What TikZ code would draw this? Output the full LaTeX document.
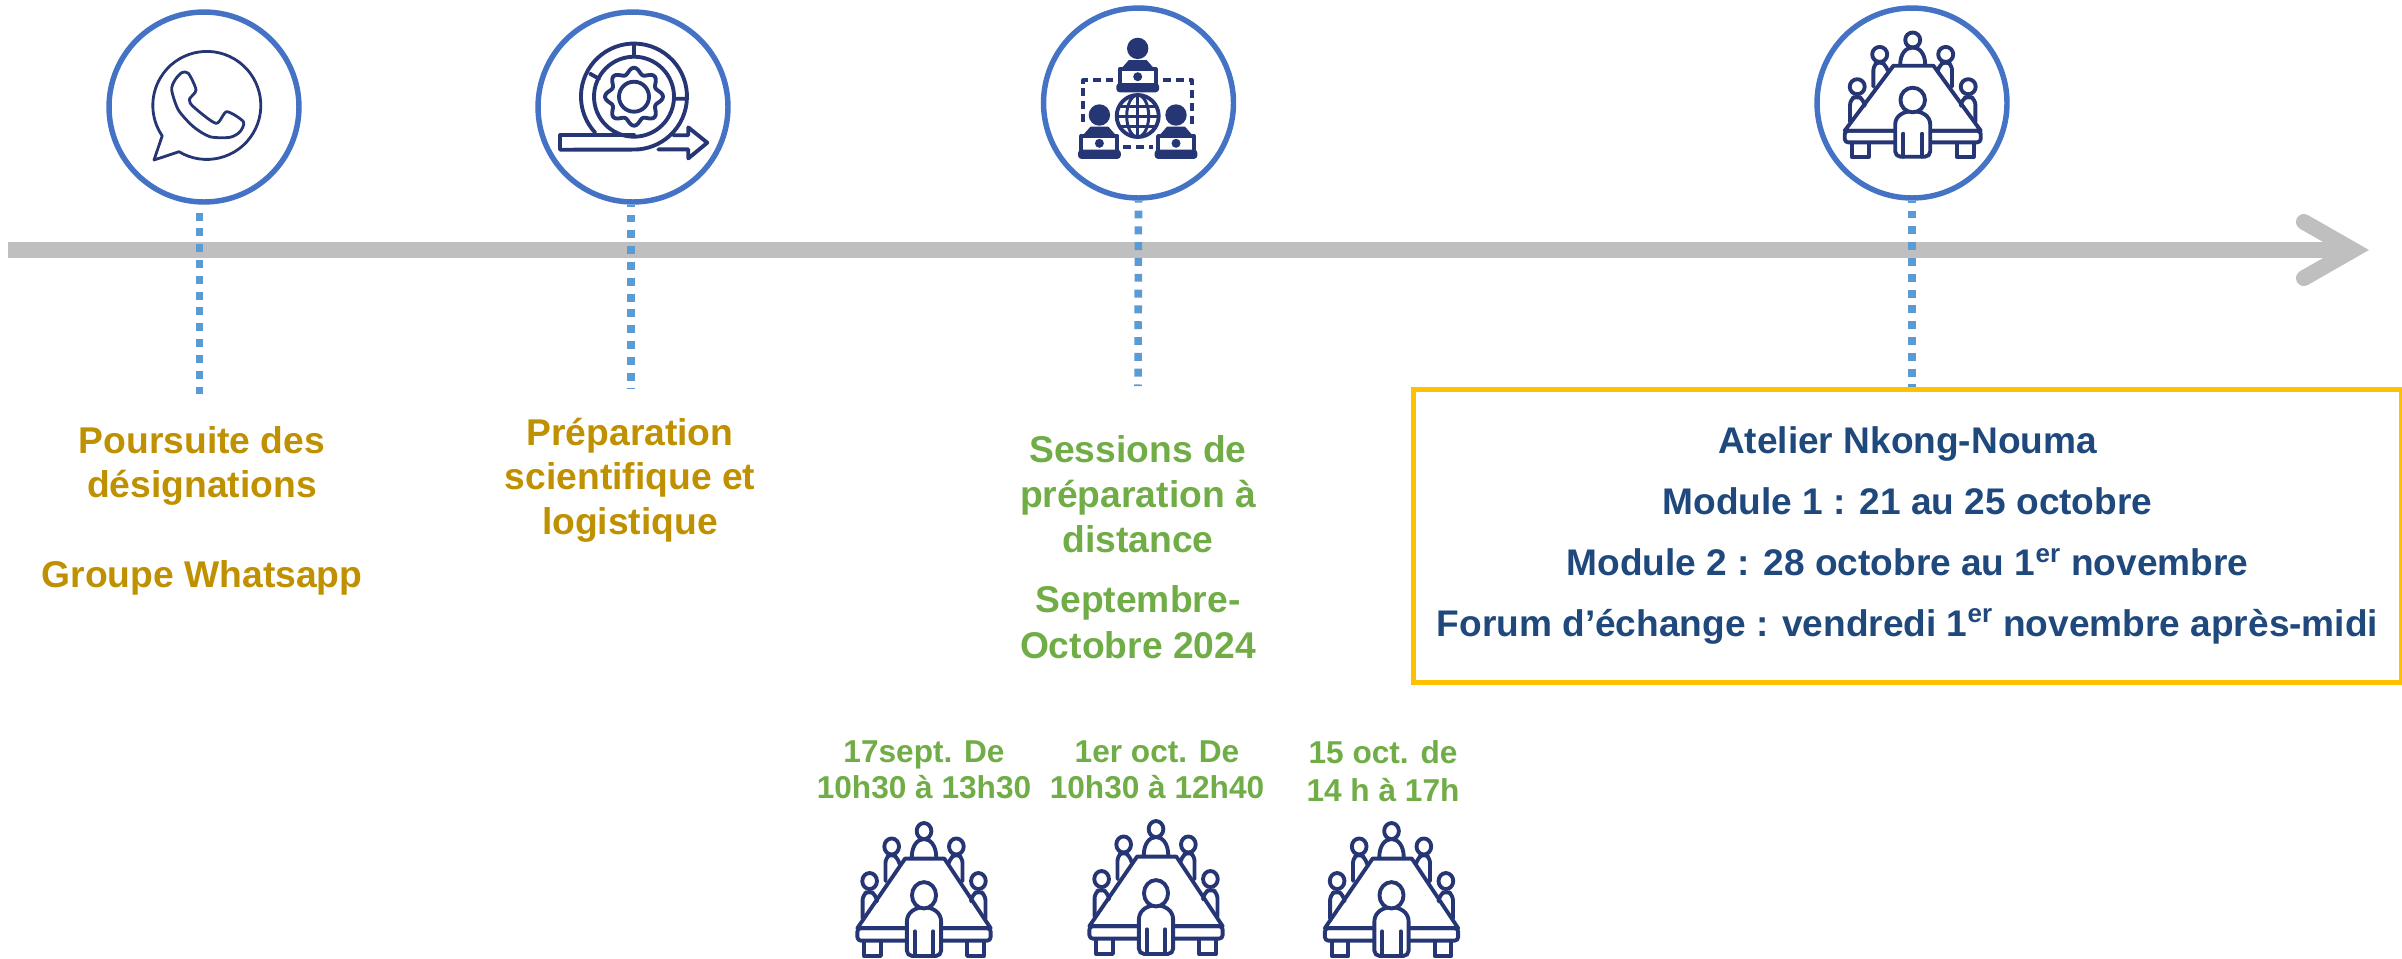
\documentclass[tikz,border=0pt]{standalone}
\usepackage{fontspec}
\setmainfont{Liberation Sans}
\usetikzlibrary{arrows.meta,positioning}

\definecolor{ringblue}{HTML}{4472C4}
\definecolor{stemblue}{HTML}{5B9BD5}
\definecolor{iconnavy}{HTML}{263574}
\definecolor{textnavy}{HTML}{1F497D}
\definecolor{axisgray}{HTML}{BFBFBF}
\definecolor{labelgold}{HTML}{BF9000}
\definecolor{labelgreen}{HTML}{70AD47}
\definecolor{boxyellow}{HTML}{FFC000}

\tikzset{
    iconline/.style={draw=iconnavy, line width=2.2pt, line join=round, line cap=round},
    iconfill/.style={fill=iconnavy, draw=iconnavy, line width=1pt, line join=round},
    % the table with six people, used four times
    meeting/.pic={
        \draw[iconline] (-19.3,-92) -- (20.7,-92) -- (68,-27) -- (-68,-27) -- cycle;
        \draw[iconline, rounded corners=2pt] (-68,-27) rectangle (68,-15.3);
        \draw[iconline] (-61,-15) -- (-61,-1) -- (-44,-1) -- (-44,-15);
        \draw[iconline] (61,-15) -- (61,-1) -- (44,-1) -- (44,-15);
        \draw[iconline] (-12.5,-93) .. controls (-12.5,-116) and (12.5,-116) .. (12.5,-93);
        \draw[iconline] (0,-117.7) circle (7.5);
        \foreach \s in {-1,1} {
            \draw[iconline] (\s*33,-103.3) circle (7.5);
            \draw[iconline] (\s*55.5,-71) circle (7.5);
            \draw[iconline, rounded corners=3pt] (\s*39.3,-71) -- (\s*39.3,-93) -- (\s*33,-96.5) -- (\s*27,-93) -- (\s*25,-87);
            \draw[iconline, rounded corners=3pt] (\s*62.7,-36) -- (\s*62.7,-58) -- (\s*56,-62) -- (\s*49,-58) -- (\s*48,-52);
        }
        \draw[iconline, fill=white, rounded corners=3pt] (-17.5,-1) -- (-17.5,-28) .. controls (-17.5,-51) and (17.5,-51) .. (17.5,-28) -- (17.5,-1) -- cycle;
        \draw[iconline] (-9.3,-24) -- (-9.3,-1) (9.5,-24) -- (9.5,-1);
        \draw[iconline, fill=white] (0,-57.7) circle (12.3);
    },
    whatsappicon/.pic={
        \draw[iconline, line width=1.6pt] (-27.7,45.7) arc[start angle=121, end angle=-214.3, radius=54] -- (-52.7,54) -- cycle;
        \draw[iconline, line width=1.6pt] plot[smooth cycle, tension=0.45] coordinates {(-25,-33.3) (-18.3,-32.7) (-10.7,-16) (-17.3,-6.7) (-13.3,0.7) (9.3,17.3) (20,5.7) (36.7,15.7) (33.3,25.7) (23.3,31.3) (3.3,30.7) (-13.3,20.7) (-28.3,4) (-35,-16) (-31.7,-26)};
    },
    gearicon/.pic={
        \draw[iconline] (-74,38.5) -- (0,38.5);
        \draw[iconline] (-38.8,36) arc[start angle=137, end angle=450, radius=53] -- (-74,53) -- (-74,38.5);
        \draw[iconline] (0,0) circle (40);
        \draw[iconline] (0,-53) -- (0,-40) (-44,-23) -- (-35,-18) (40,2) -- (53,2);
        \draw[iconline] plot[smooth cycle, samples=97, domain=0:356.25, variable=\t] (\t:{26+3*cos(8*\t)});
        \draw[iconline] (0,0) circle (15);
        \draw[iconline] (24.3,52.7) -- (54.3,52.7) -- (54.3,61.7) -- (73.3,46) -- (54.3,30.7) -- (54.3,38.5) -- (39.3,38.5);
    },
    laptopuser/.pic={
        \fill[iconnavy] (0,0) circle (10.7);
        \fill[iconnavy] (-18,22) -- (-9,11.7) -- (9,11.7) -- (18,22) -- cycle;
        \draw[iconline, fill=white] (-18,21) -- (18,21) -- (18,37) -- (-18,37) -- cycle;
        \fill[iconnavy] (0,28.3) circle (4.5);
        \draw[iconfill, rounded corners=1.5pt] (-20.5,35.5) rectangle (20.5,43);
    },
    networkicon/.pic={
        \draw[iconline, line cap=butt, dash pattern=on 4.5pt off 2.8pt] (-24.3,-16.7) -- (-54.3,-16.7) -- (-54.3,30);
        \draw[iconline, line cap=butt, dash pattern=on 4.5pt off 2.8pt] (25.7,-16.7) -- (54,-16.7) -- (54,30);
        \draw[iconline, line cap=butt, dash pattern=on 4.5pt off 2.8pt] (-14.3,50.7) -- (15.7,50.7);
        \pic at (0,-48.3) {laptopuser};
        \pic at (-38.3,18.3) {laptopuser};
        \pic at (38.3,18.3) {laptopuser};
        \draw[iconline] (0,19.3) circle (21);
        \draw[iconline, line width=1.7pt] (0,19.3) ellipse (11 and 21);
        \draw[iconline, line width=1.7pt] (0,-1.7) -- (0,40.3) (-21,19.3) -- (21,19.3) (-18.5,9.3) -- (18.5,9.3) (-18.5,29.3) -- (18.5,29.3);
    },
    milestone/.style={circle, draw=ringblue, line width=3.1pt, minimum size=3.8cm, inner sep=0pt},
    axisline/.style={draw=axisgray, line width=9pt, -{Straight Barb[length=28pt, width=32pt, line width=9pt, line cap=round, line join=miter]}},
    stem/.style={draw=stemblue, line width=4.3pt},
    goldlabel/.style={text=labelgold, align=center, font=\fontsize{21.2}{25.4}\bfseries\selectfont, inner sep=0pt},
    greenlabel/.style={text=labelgreen, align=center, font=\fontsize{21.2}{25.7}\bfseries\selectfont, inner sep=0pt},
    datelabel/.style={text=labelgreen, align=center, font=\fontsize{18}{20.4}\bfseries\selectfont, inner sep=0pt},
    atelierbox/.style={draw=boxyellow, line width=2.8pt, minimum width=19.78cm, minimum height=5.86cm, inner sep=0pt,
        text=textnavy, align=center, font=\fontsize{21.1}{34.6}\bfseries\selectfont}
}

\begin{document}
\begin{tikzpicture}[x=0.02cm, y=-0.02cm]
\useasboundingbox (0,0) rectangle (2402,958);

% axis
\coordinate (axisstart) at (8,250);
\coordinate (axisend) at (2369,250);
\draw[axisline] (axisstart) -- (axisend);

% circles with their icons
\node[milestone] (whatsapp) at (204,107) {};
\node[milestone] (preparation) at (633,107) {};
\node[milestone] (remote) at (1138.5,103) {};
\node[milestone] (workshop) at (1912,103) {};
\pic at (206.7,106) {whatsappicon};
\pic at (634,96.7) {gearicon};
\pic at (1137.7,96.7) {networkicon};
\pic at (1912.7,157.7) {meeting};

% labels under the stems
\node[goldlabel] (designations) at (202,510.5) {Poursuite des\\désignations\\[25.4pt]Groupe Whatsapp};
\node[goldlabel] (logistics) at (630,480) {Préparation\\scientifique et\\logistique};
\node[greenlabel] (sessions) at (1138,547) {Sessions de\\préparation à\\distance\\[8.5pt]Septembre-\\Octobre 2024};

\node[atelierbox] (atelier) at (1907.5,536) {Atelier Nkong-Nouma\\Module 1 : 21 au 25 octobre\\Module 2 : 28 octobre au 1\textsuperscript{er} novembre\\Forum d’échange : vendredi 1\textsuperscript{er} novembre après-midi\\[-29.4pt]\mbox{}};

% stems
\coordinate (stemwhatsapp) at (199.6,395.6);
\coordinate (stempreparation) at (631,388.6);
\coordinate (stemremote) at (1138,386);
\draw[stem, dash pattern=on 4.5pt off 4.5pt, dash phase=4.5pt] (whatsapp.south -| stemwhatsapp) -- (stemwhatsapp);
\draw[stem, dash pattern=on 4.5pt off 4.5pt, dash phase=3.4pt] (preparation.south -| stempreparation) -- (stempreparation);
\draw[stem, dash pattern=on 4.5pt off 4.5pt, dash phase=3.4pt] (remote.south) -- (stemremote);
\draw[stem, dash pattern=on 4.5pt off 4.5pt, dash phase=3.4pt] (workshop.south) -- (workshop.south |- atelier.north);

% the three dated sessions
\node[datelabel] (septsession) at (924,770) {17sept. De\\10h30 à 13h30};
\node[datelabel] (octsession) at (1157,770) {1er oct. De\\10h30 à 12h40};
\node[datelabel] (lastsession) at (1383,771.5) {15 oct. de\\[1.2pt]14 h à 17h};
\pic[xscale=.98, yscale=1.07] at (924,957) {meeting};
\pic[xscale=.98, yscale=1.07] at (1156,955) {meeting};
\pic[xscale=.98, yscale=1.07] at (1391.5,957) {meeting};
\end{tikzpicture}
\end{document}
